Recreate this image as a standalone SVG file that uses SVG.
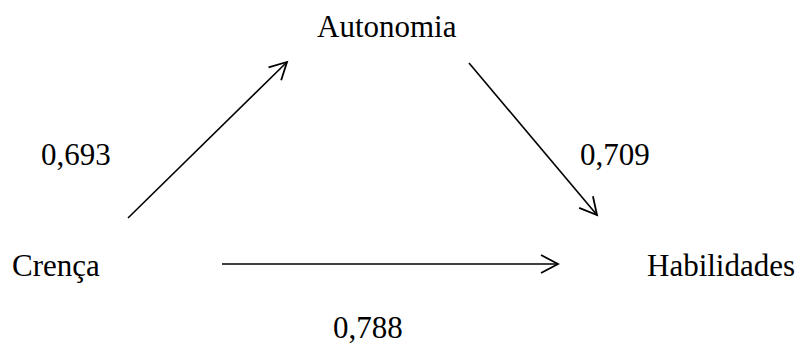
<svg xmlns="http://www.w3.org/2000/svg" width="802" height="347" viewBox="0 0 802 347">
<style>
text{font-family:"Liberation Serif","Times New Roman",serif;font-size:31px;fill:#000}
.c{stroke:#000;stroke-width:1.6;fill:none}
</style>
<defs>
<marker id="ah" markerUnits="userSpaceOnUse" markerWidth="24" markerHeight="24" viewBox="-20 -12 24 24" refX="0" refY="0" orient="auto">
<path d="M-17,-9 L0,0 L-17,9" fill="none" stroke="#000" stroke-width="1.8"/>
</marker>
</defs>
<rect width="802" height="347" fill="#fff"/>
<g id="connectors">
<line class="c" x1="128" y1="218" x2="287" y2="62" marker-end="url(#ah)"/>
<line class="c" x1="469" y1="63" x2="597" y2="215" marker-end="url(#ah)"/>
<line class="c" x1="222" y1="264" x2="558" y2="264" marker-end="url(#ah)"/>
</g>
<g id="autonomia"><text x="317" y="37">Autonomia</text></g>
<g id="crenca"><text x="12" y="276">Crença</text></g>
<g id="habilidades"><text x="647" y="276">Habilidades</text></g>
<g id="labels">
<text x="333" y="338">0,788</text>
<text x="41" y="165">0,693</text>
<text x="580" y="165">0,709</text>
</g>
</svg>
